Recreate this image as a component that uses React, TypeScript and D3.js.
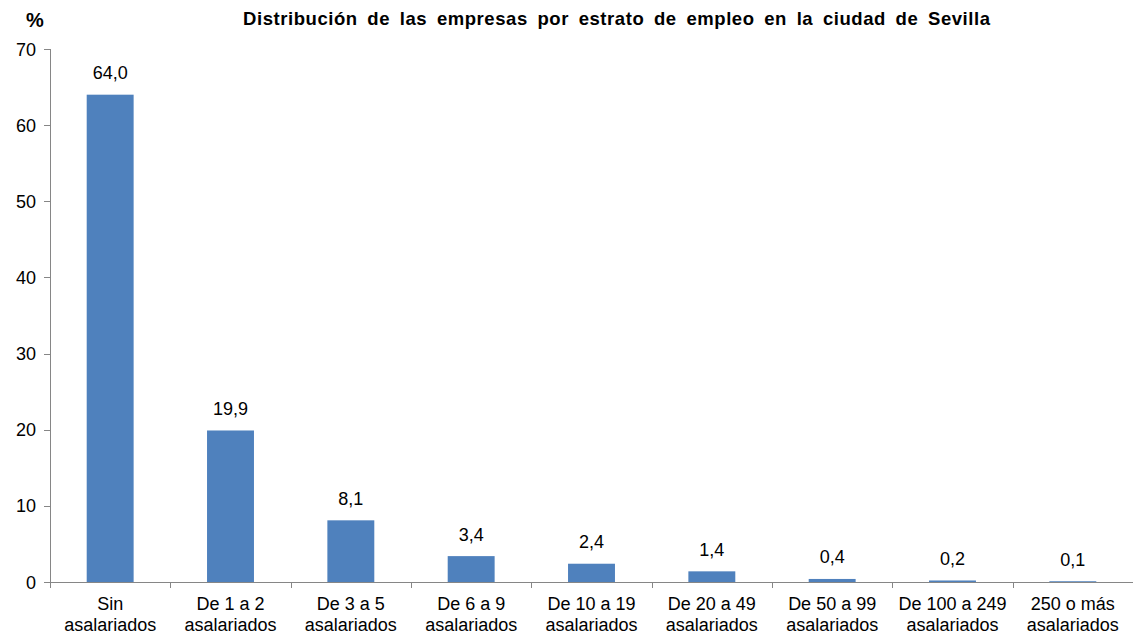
import React, { useEffect, useRef } from "react";
import * as d3 from "d3";

const categories: string[][] = [
  ["Sin", "asalariados"],
  ["De 1 a 2", "asalariados"],
  ["De 3 a 5", "asalariados"],
  ["De 6 a 9", "asalariados"],
  ["De 10 a 19", "asalariados"],
  ["De 20 a 49", "asalariados"],
  ["De 50 a 99", "asalariados"],
  ["De 100 a 249", "asalariados"],
  ["250 o más", "asalariados"],
];
const values: number[] = [64.0, 19.9, 8.1, 3.4, 2.4, 1.4, 0.4, 0.2, 0.1];
const yTicks: number[] = [0, 10, 20, 30, 40, 50, 60, 70];

const title = "Distribución de las empresas por estrato de empleo en la ciudad de Sevilla";

export default function App() {
  const ref = useRef<SVGSVGElement>(null);

  useEffect(() => {
    document.body.style.margin = "0";
    const width = 1133;
    const height = 637;
    const marginLeft = 50;
    const marginRight = 0;
    const top = 49;
    const bottom = 582;
    const font = "'Liberation Sans', Arial, sans-serif";
    const axisColor = "#868686";

    const svg = d3.select(ref.current);
    svg.selectAll("*").remove();

    const x = d3.scaleBand<number>()
      .domain(d3.range(values.length))
      .range([marginLeft, width - marginRight])
      .paddingInner(0.61)
      .paddingOuter(0.305);

    const band = (width - marginRight - marginLeft) / values.length;

    const y = d3.scaleLinear().domain([0, 70]).range([bottom, top]);

    // title and unit
    svg.append("text")
      .attr("x", 243)
      .attr("y", 25)
      .attr("font-family", font)
      .attr("font-weight", "bold")
      .attr("font-size", "18.5px")
      .attr("word-spacing", "4px")
      .attr("textLength", 747)
      .attr("lengthAdjust", "spacing")
      .attr("fill", "#000")
      .text(title);

    svg.append("text")
      .attr("x", 26)
      .attr("y", 27)
      .attr("font-family", font)
      .attr("font-weight", "bold")
      .attr("font-size", "20px")
      .text("%");

    // bars
    svg.selectAll("rect.bar")
      .data(values)
      .enter()
      .append("rect")
      .attr("class", "bar")
      .attr("x", (d, i) => x(i)!)
      .attr("y", d => y(d))
      .attr("width", x.bandwidth())
      .attr("height", d => y(0) - y(d))
      .attr("fill", "#4f81bd");

    // value labels
    svg.selectAll("text.val")
      .data(values)
      .enter()
      .append("text")
      .attr("class", "val")
      .attr("x", (d, i) => x(i)! + x.bandwidth() / 2)
      .attr("y", d => y(d) - 15.5)
      .attr("text-anchor", "middle")
      .attr("font-family", font)
      .attr("font-size", "18px")
      .attr("fill", "#000")
      .text(d => d.toFixed(1).replace(".", ","));

    // y axis
    svg.append("line")
      .attr("x1", marginLeft + 0.5).attr("x2", marginLeft + 0.5)
      .attr("y1", top).attr("y2", bottom)
      .attr("stroke", axisColor);

    const yg = svg.selectAll("g.ytick").data(yTicks).enter().append("g");
    yg.append("line")
      .attr("x1", marginLeft - 6).attr("x2", marginLeft)
      .attr("y1", d => Math.round(y(d)) + 0.5).attr("y2", d => Math.round(y(d)) + 0.5)
      .attr("stroke", axisColor);
    yg.append("text")
      .attr("x", 36)
      .attr("y", d => y(d) + 6.5)
      .attr("text-anchor", "end")
      .attr("font-family", font)
      .attr("font-size", "18px")
      .attr("fill", "#000")
      .text(d => d);

    // x axis
    svg.append("line")
      .attr("x1", marginLeft).attr("x2", width)
      .attr("y1", bottom + 0.5).attr("y2", bottom + 0.5)
      .attr("stroke", axisColor);

    svg.selectAll("line.xtick")
      .data(d3.range(values.length + 1))
      .enter()
      .append("line")
      .attr("x1", i => Math.round(marginLeft + i * band) + 0.5)
      .attr("x2", i => Math.round(marginLeft + i * band) + 0.5)
      .attr("y1", bottom).attr("y2", bottom + 6)
      .attr("stroke", axisColor);

    const lab = svg.selectAll("text.cat")
      .data(categories)
      .enter()
      .append("text")
      .attr("class", "cat")
      .attr("text-anchor", "middle")
      .attr("font-family", font)
      .attr("font-size", "18px")
      .attr("fill", "#000");
    lab.each(function (d, i) {
      const t = d3.select(this);
      d.forEach((line, k) => {
        t.append("tspan")
          .attr("x", x(i)! + x.bandwidth() / 2)
          .attr("y", 610 + k * 20.5)
          .text(line);
      });
    });
  }, []);

  return <svg ref={ref} width={1133} height={637} style={{ display: "block", background: "#fff" }} />;
}
